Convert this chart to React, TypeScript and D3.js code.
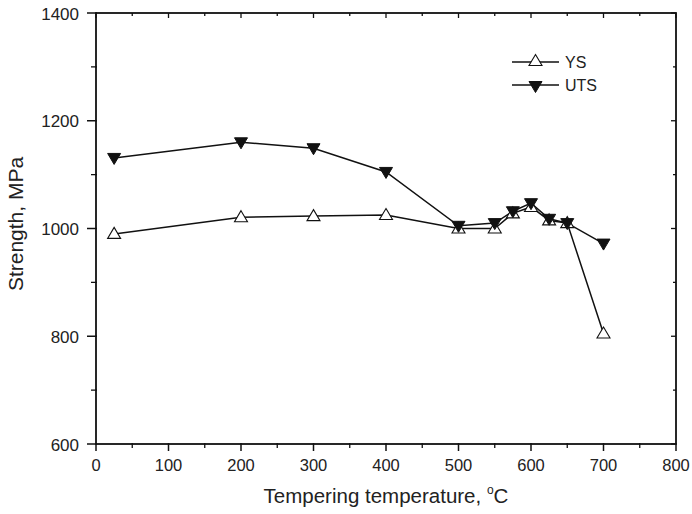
import React from "react";
import * as d3 from "d3";

const temps = [25, 200, 300, 400, 500, 550, 575, 600, 625, 650, 700];
const ysValues = [990, 1021, 1023, 1025, 1000, 1000, 1028, 1040, 1015, 1010, 805];
const utsValues = [1131, 1160, 1149, 1105, 1005, 1010, 1032, 1047, 1018, 1010, 972];
const xTicks = [0, 100, 200, 300, 400, 500, 600, 700, 800];
const yTicks = [600, 800, 1000, 1200, 1400];

const W = 692;
const H = 514;
const M = { left: 96, right: 16, top: 13, bottom: 70 };
const FONT = "'Liberation Sans', Arial, sans-serif";

export default function App() {
  const x = d3.scaleLinear().domain([0, 800]).range([M.left, W - M.right]);
  const y = d3.scaleLinear().domain([600, 1400]).range([H - M.bottom, M.top]);
  const line = d3
    .line<[number, number]>()
    .x((d) => x(d[0]))
    .y((d) => y(d[1]));

  const ysPts = temps.map((t, i) => [t, ysValues[i]] as [number, number]);
  const utsPts = temps.map((t, i) => [t, utsValues[i]] as [number, number]);

  const s = 6.5;
  const upTri = (cx: number, cy: number) =>
    `M${cx},${cy - 6.5} L${cx + s},${cy + 4.5} L${cx - s},${cy + 4.5} Z`;
  const downTri = (cx: number, cy: number) =>
    `M${cx},${cy + 6.5} L${cx + s},${cy - 4.5} L${cx - s},${cy - 4.5} Z`;

  const x0 = x(0), x1 = x(800), y0 = y(600), y1 = y(1400);
  const xMinor = d3.range(50, 800, 100);
  const yMinor = d3.range(700, 1400, 200);

  const legendY1 = 62;
  const legendY2 = 85;
  const lx = 512;

  return (
    <svg
      width={W}
      height={H}
      style={{ position: "absolute", left: 0, top: 0, background: "#fff" }}
      fontFamily={FONT}
    >
      <rect x={0} y={0} width={W} height={H} fill="#fff" />
      {/* frame */}
      <rect x={x0} y={y1} width={x1 - x0} height={y0 - y1} fill="none" stroke="#111" strokeWidth={1.8} />

      {/* bottom axis ticks */}
      {xTicks.map((t) => (
        <g key={"xt" + t}>
          <line x1={x(t)} x2={x(t)} y1={y0 - 1} y2={y0 + 7} stroke="#111" strokeWidth={1.5} />
          <line x1={x(t)} x2={x(t)} y1={y1} y2={y1 + 5} stroke="#111" strokeWidth={1.3} />
          <text x={x(t)} y={y0 + 27} textAnchor="middle" fontSize={16.5} fill="#222">
            {t}
          </text>
        </g>
      ))}
      {xMinor.map((t) => (
        <g key={"xm" + t}>
          <line x1={x(t)} x2={x(t)} y1={y0 - 1} y2={y0 + 4} stroke="#111" strokeWidth={1.3} />
          <line x1={x(t)} x2={x(t)} y1={y1} y2={y1 + 3} stroke="#111" strokeWidth={1.3} />
        </g>
      ))}

      {/* left axis ticks */}
      {yTicks.map((t) => (
        <g key={"yt" + t}>
          <line x1={x0 - 9} x2={x0 + 1} y1={y(t)} y2={y(t)} stroke="#111" strokeWidth={1.5} />
          <line x1={x1 - 5} x2={x1} y1={y(t)} y2={y(t)} stroke="#111" strokeWidth={1.3} />
          <text x={x0 - 17} y={y(t) + 6.5} textAnchor="end" fontSize={17} fill="#222">
            {t}
          </text>
        </g>
      ))}
      {yMinor.map((t) => (
        <g key={"ym" + t}>
          <line x1={x0 - 5} x2={x0 + 1} y1={y(t)} y2={y(t)} stroke="#111" strokeWidth={1.3} />
          <line x1={x1 - 3} x2={x1} y1={y(t)} y2={y(t)} stroke="#111" strokeWidth={1.3} />
        </g>
      ))}

      {/* axis titles */}
      <text x={(x0 + x1) / 2} y={503} textAnchor="middle" fontSize={20.5} fill="#222">
        Tempering temperature, <tspan dy={-9} fontSize={12}>o</tspan>
        <tspan dy={9}>C</tspan>
      </text>
      <text
        transform={`translate(23,224) rotate(-90)`}
        textAnchor="middle"
        fontSize={21}
        fill="#222"
      >
        Strength, MPa
      </text>

      {/* series lines */}
      <path d={line(utsPts) ?? ""} fill="none" stroke="#111" strokeWidth={1.5} />
      <path d={line(ysPts) ?? ""} fill="none" stroke="#111" strokeWidth={1.5} />

      {/* markers */}
      {ysPts.map((p, i) => (
        <path key={"ys" + i} d={upTri(x(p[0]), y(p[1]))} fill="#fff" stroke="#111" strokeWidth={1.1} />
      ))}
      {utsPts.map((p, i) => (
        <path key={"uts" + i} d={downTri(x(p[0]), y(p[1]))} fill="#111" stroke="#111" strokeWidth={1} />
      ))}

      {/* legend */}
      <line x1={lx} x2={lx + 47} y1={legendY1} y2={legendY1} stroke="#111" strokeWidth={1.3} />
      <path d={upTri(lx + 23.5, legendY1 - 1)} fill="#fff" stroke="#111" strokeWidth={1.1} />
      <text x={lx + 53} y={legendY1 + 6} fontSize={16} fill="#222">YS</text>
      <line x1={lx} x2={lx + 47} y1={legendY2} y2={legendY2} stroke="#111" strokeWidth={1.3} />
      <path d={downTri(lx + 23.5, legendY2 + 1)} fill="#111" stroke="#111" strokeWidth={1} />
      <text x={lx + 53} y={legendY2 + 6} fontSize={16} fill="#222">UTS</text>
    </svg>
  );
}
